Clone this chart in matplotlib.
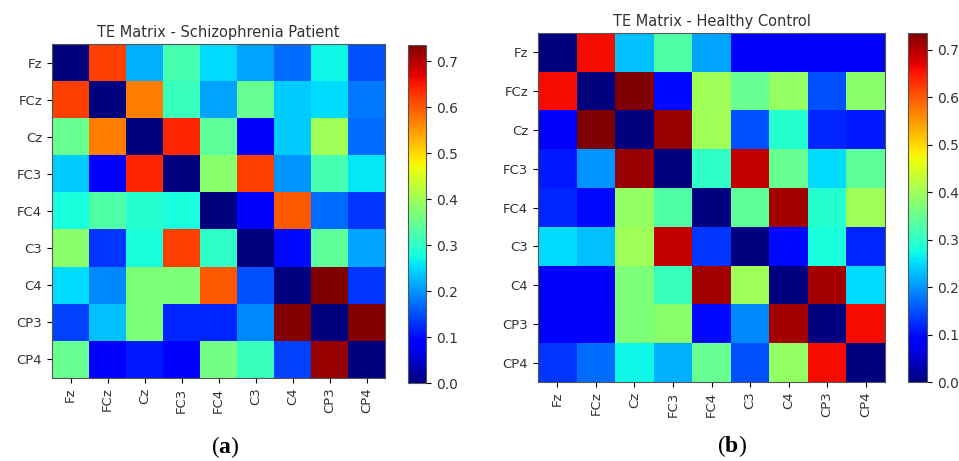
import numpy as np
import matplotlib
matplotlib.use("Agg")
import matplotlib.pyplot as plt

plt.rcParams["mathtext.fontset"] = "custom"
plt.rcParams["mathtext.rm"] = "Liberation Serif"
plt.rcParams["mathtext.bf"] = "Liberation Serif:bold"

channels = ["Fz", "FCz", "Cz", "FC3", "FC4", "C3", "C4", "CP3", "CP4"]

te_patient = [
    [0.00, 0.62, 0.22, 0.32, 0.25, 0.21, 0.17, 0.27, 0.15],
    [0.62, 0.00, 0.57, 0.31, 0.21, 0.35, 0.24, 0.25, 0.18],
    [0.35, 0.57, 0.00, 0.64, 0.34, 0.09, 0.24, 0.40, 0.17],
    [0.24, 0.08, 0.64, 0.00, 0.38, 0.62, 0.20, 0.32, 0.26],
    [0.28, 0.33, 0.29, 0.28, 0.00, 0.09, 0.60, 0.17, 0.13],
    [0.38, 0.13, 0.28, 0.62, 0.30, 0.00, 0.10, 0.34, 0.21],
    [0.25, 0.19, 0.37, 0.37, 0.60, 0.15, 0.00, 0.735, 0.13],
    [0.14, 0.23, 0.37, 0.12, 0.12, 0.19, 0.73, 0.00, 0.73],
    [0.35, 0.09, 0.11, 0.09, 0.36, 0.31, 0.14, 0.72, 0.00],
]

te_control = [
    [0.00, 0.66, 0.23, 0.33, 0.21, 0.08, 0.08, 0.09, 0.09],
    [0.66, 0.00, 0.735, 0.10, 0.40, 0.35, 0.39, 0.15, 0.38],
    [0.08, 0.735, 0.00, 0.72, 0.40, 0.15, 0.29, 0.12, 0.11],
    [0.11, 0.20, 0.72, 0.00, 0.30, 0.69, 0.35, 0.25, 0.34],
    [0.12, 0.10, 0.39, 0.33, 0.00, 0.34, 0.71, 0.29, 0.40],
    [0.25, 0.23, 0.40, 0.69, 0.13, 0.00, 0.10, 0.28, 0.12],
    [0.08, 0.08, 0.37, 0.31, 0.71, 0.40, 0.00, 0.71, 0.25],
    [0.09, 0.09, 0.37, 0.38, 0.10, 0.19, 0.71, 0.00, 0.66],
    [0.13, 0.17, 0.27, 0.22, 0.35, 0.15, 0.39, 0.66, 0.00],
]

titles = ["TE Matrix - Schizophrenia Patient", "TE Matrix - Healthy Control"]
panel_labels = ["a", "b"]

W, H = 959, 461
fig = plt.figure(figsize=(W / 100, H / 100), dpi=100)

def px(x0, y0, x1, y1):
    return [x0 / W, 1 - y1 / H, (x1 - x0) / W, (y1 - y0) / H]

layouts = [
    dict(ax=px(52, 44, 385, 378), cb=px(408, 45, 426, 383), lab=(225, 447)),
    dict(ax=px(538, 33, 885, 382), cb=px(908, 33, 927, 382), lab=(732, 446)),
]

for data, title, lab, lay in zip([te_patient, te_control], titles, panel_labels, layouts):
    ax = fig.add_axes(lay["ax"])
    im = ax.imshow(np.array(data), cmap="jet", vmin=0, vmax=0.735, aspect="auto")
    ax.set_xticks(range(len(channels)))
    ax.set_yticks(range(len(channels)))
    ax.set_xticklabels(channels, rotation=90, fontsize=9.5, color="#333333")
    ax.set_yticklabels(channels, fontsize=9.5, color="#333333")
    ax.set_title(title, fontsize=10.5, color="#333333", pad=5)
    for s in ax.spines.values():
        s.set_color("#555555")
    cax = fig.add_axes(lay["cb"])
    cb = fig.colorbar(im, cax=cax)
    cb.set_ticks([0.0, 0.1, 0.2, 0.3, 0.4, 0.5, 0.6, 0.7])
    cb.ax.tick_params(labelsize=10, labelcolor="#333333")
    cb.outline.set_edgecolor("#555555")
    x, y = lay["lab"]
    fig.text(x / W, 1 - y / H, r"($\mathbf{%s}$)" % lab, fontsize=17,
             family="Liberation Serif", ha="center", va="center")

fig.savefig("out.png", dpi=100)
